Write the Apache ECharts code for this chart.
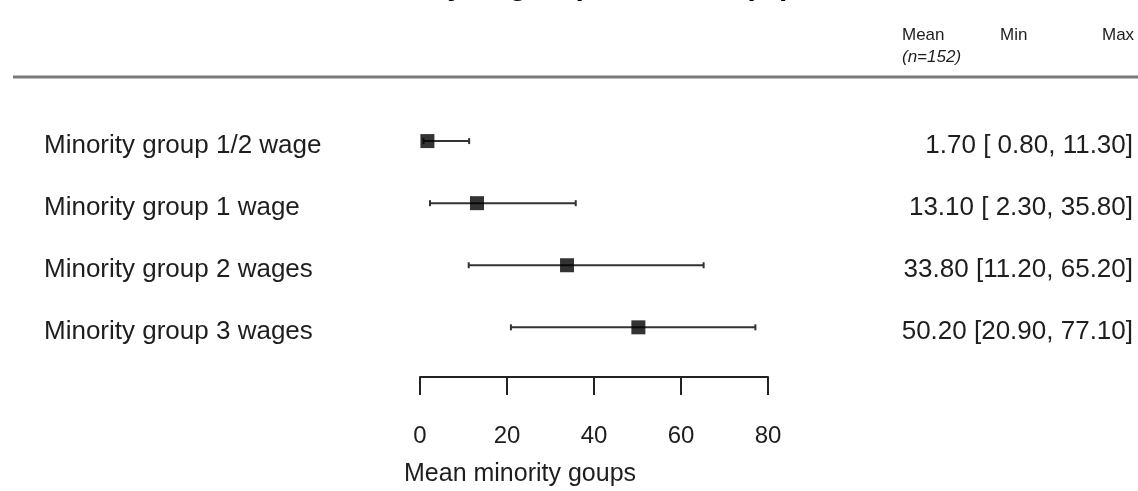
<!DOCTYPE html>
<html><head><meta charset="utf-8">
<script src="https://cdn.jsdelivr.net/npm/echarts@6/dist/echarts.min.js"></script>
<style>html,body{margin:0;padding:0;background:#fff}#c{width:1138px;height:491px}</style>
</head><body><div id="c"></div>
<script>
const categories = ['Minority group 1/2 wage','Minority group 1 wage','Minority group 2 wages','Minority group 3 wages'];
const means = [1.7, 13.1, 33.8, 50.2];
const mins = [0.8, 2.3, 11.2, 20.9];
const maxs = [11.3, 35.8, 65.2, 77.1];
const xTicks = [0, 20, 40, 60, 80];
const headerCols = ['Mean', 'Min', 'Max'];
const nLabel = '(n=152)';
const axisName = 'Mean minority goups';
const titleText = 'Minority of group members (%)';

function pad(s){ while(s.length<5) s=' '+s; return s; }
const stats = means.map((m,i)=> m.toFixed(2)+' ['+pad(mins[i].toFixed(2))+', '+maxs[i].toFixed(2)+']');

const FONT = 'Liberation Sans, Arial, sans-serif';
const TXT = '#1e1e1e';
const chart = echarts.init(document.getElementById('c'));
const rowPos = categories.map((_,i)=>i+1);
const lblRich = {a:{fontSize:26, color:TXT, fontFamily:FONT, padding:[9,0,0,0]}};

chart.setOption({
  animation:false,
  textStyle:{fontFamily:FONT},
  grid:{left:420, width:348, top:79, bottom:114},
  xAxis:{type:'value', min:xTicks[0], max:xTicks[xTicks.length-1], interval:20,
    splitLine:{show:false},
    axisLine:{onZero:false, lineStyle:{color:'#222', width:2}},
    axisTick:{length:18, lineStyle:{color:'#222', width:2}},
    axisLabel:{margin:47, fontSize:24, color:TXT, fontFamily:FONT}
  },
  yAxis:[
    {type:'value', inverse:true, min:0, max:4.8, interval:1, position:'left',
     axisLine:{show:false}, axisTick:{show:false}, splitLine:{show:false},
     axisLabel:{align:'left', margin:376, rich:lblRich, showMaxLabel:false,
       formatter:v=> (Number.isInteger(v)&&v>=1&&v<=categories.length)? '{a|'+categories[v-1]+'}' : ''}},
    {type:'value', inverse:true, min:0, max:4.8, interval:1, position:'right',
     axisLine:{show:false}, axisTick:{show:false}, splitLine:{show:false},
     axisLabel:{align:'right', margin:365, rich:lblRich, showMaxLabel:false,
       formatter:v=> (Number.isInteger(v)&&v>=1&&v<=stats.length)? '{a|'+stats[v-1]+'}' : ''}}
  ],
  series:[
    {type:'custom', yAxisIndex:0,
     data: rowPos.map((y,i)=>[mins[i], maxs[i], y]),
     renderItem:(params, api)=>{
       const a = api.coord([api.value(0), api.value(2)]);
       const b = api.coord([api.value(1), api.value(2)]);
       const st = {stroke:'#333', lineWidth:2};
       return {type:'group', children:[
         {type:'line', shape:{x1:a[0], y1:a[1], x2:b[0], y2:b[1]}, style:st},
         {type:'line', shape:{x1:a[0], y1:a[1]-3, x2:a[0], y2:a[1]+3}, style:st},
         {type:'line', shape:{x1:b[0], y1:b[1]-3, x2:b[0], y2:b[1]+3}, style:st}
       ]};
     }},
    {type:'scatter', yAxisIndex:0, symbol:'rect', symbolSize:14,
     itemStyle:{color:'#000'},
     data: rowPos.map((y,i)=>[means[i], y]), z:5}
  ],
  graphic:[
    {type:'text', left:'center', top:-28, style:{text:titleText, font:'bold 30px '+FONT, fill:'#000'}},
    {type:'line', shape:{x1:13, y1:77, x2:1138, y2:77}, style:{stroke:'#7a7a7a', lineWidth:3}},
    {type:'text', x:902, y:27, style:{text:headerCols[0], font:'17px '+FONT, fill:TXT}},
    {type:'text', x:1000, y:27, style:{text:headerCols[1], font:'17px '+FONT, fill:TXT}},
    {type:'text', x:1102, y:27, style:{text:headerCols[2], font:'17px '+FONT, fill:TXT}},
    {type:'text', x:902, y:49, style:{text:nLabel, font:'italic 17px '+FONT, fill:TXT}},
    {type:'text', x:404, y:462, style:{text:axisName, font:'25px '+FONT, fill:TXT}}
  ]
});
</script></body></html>
